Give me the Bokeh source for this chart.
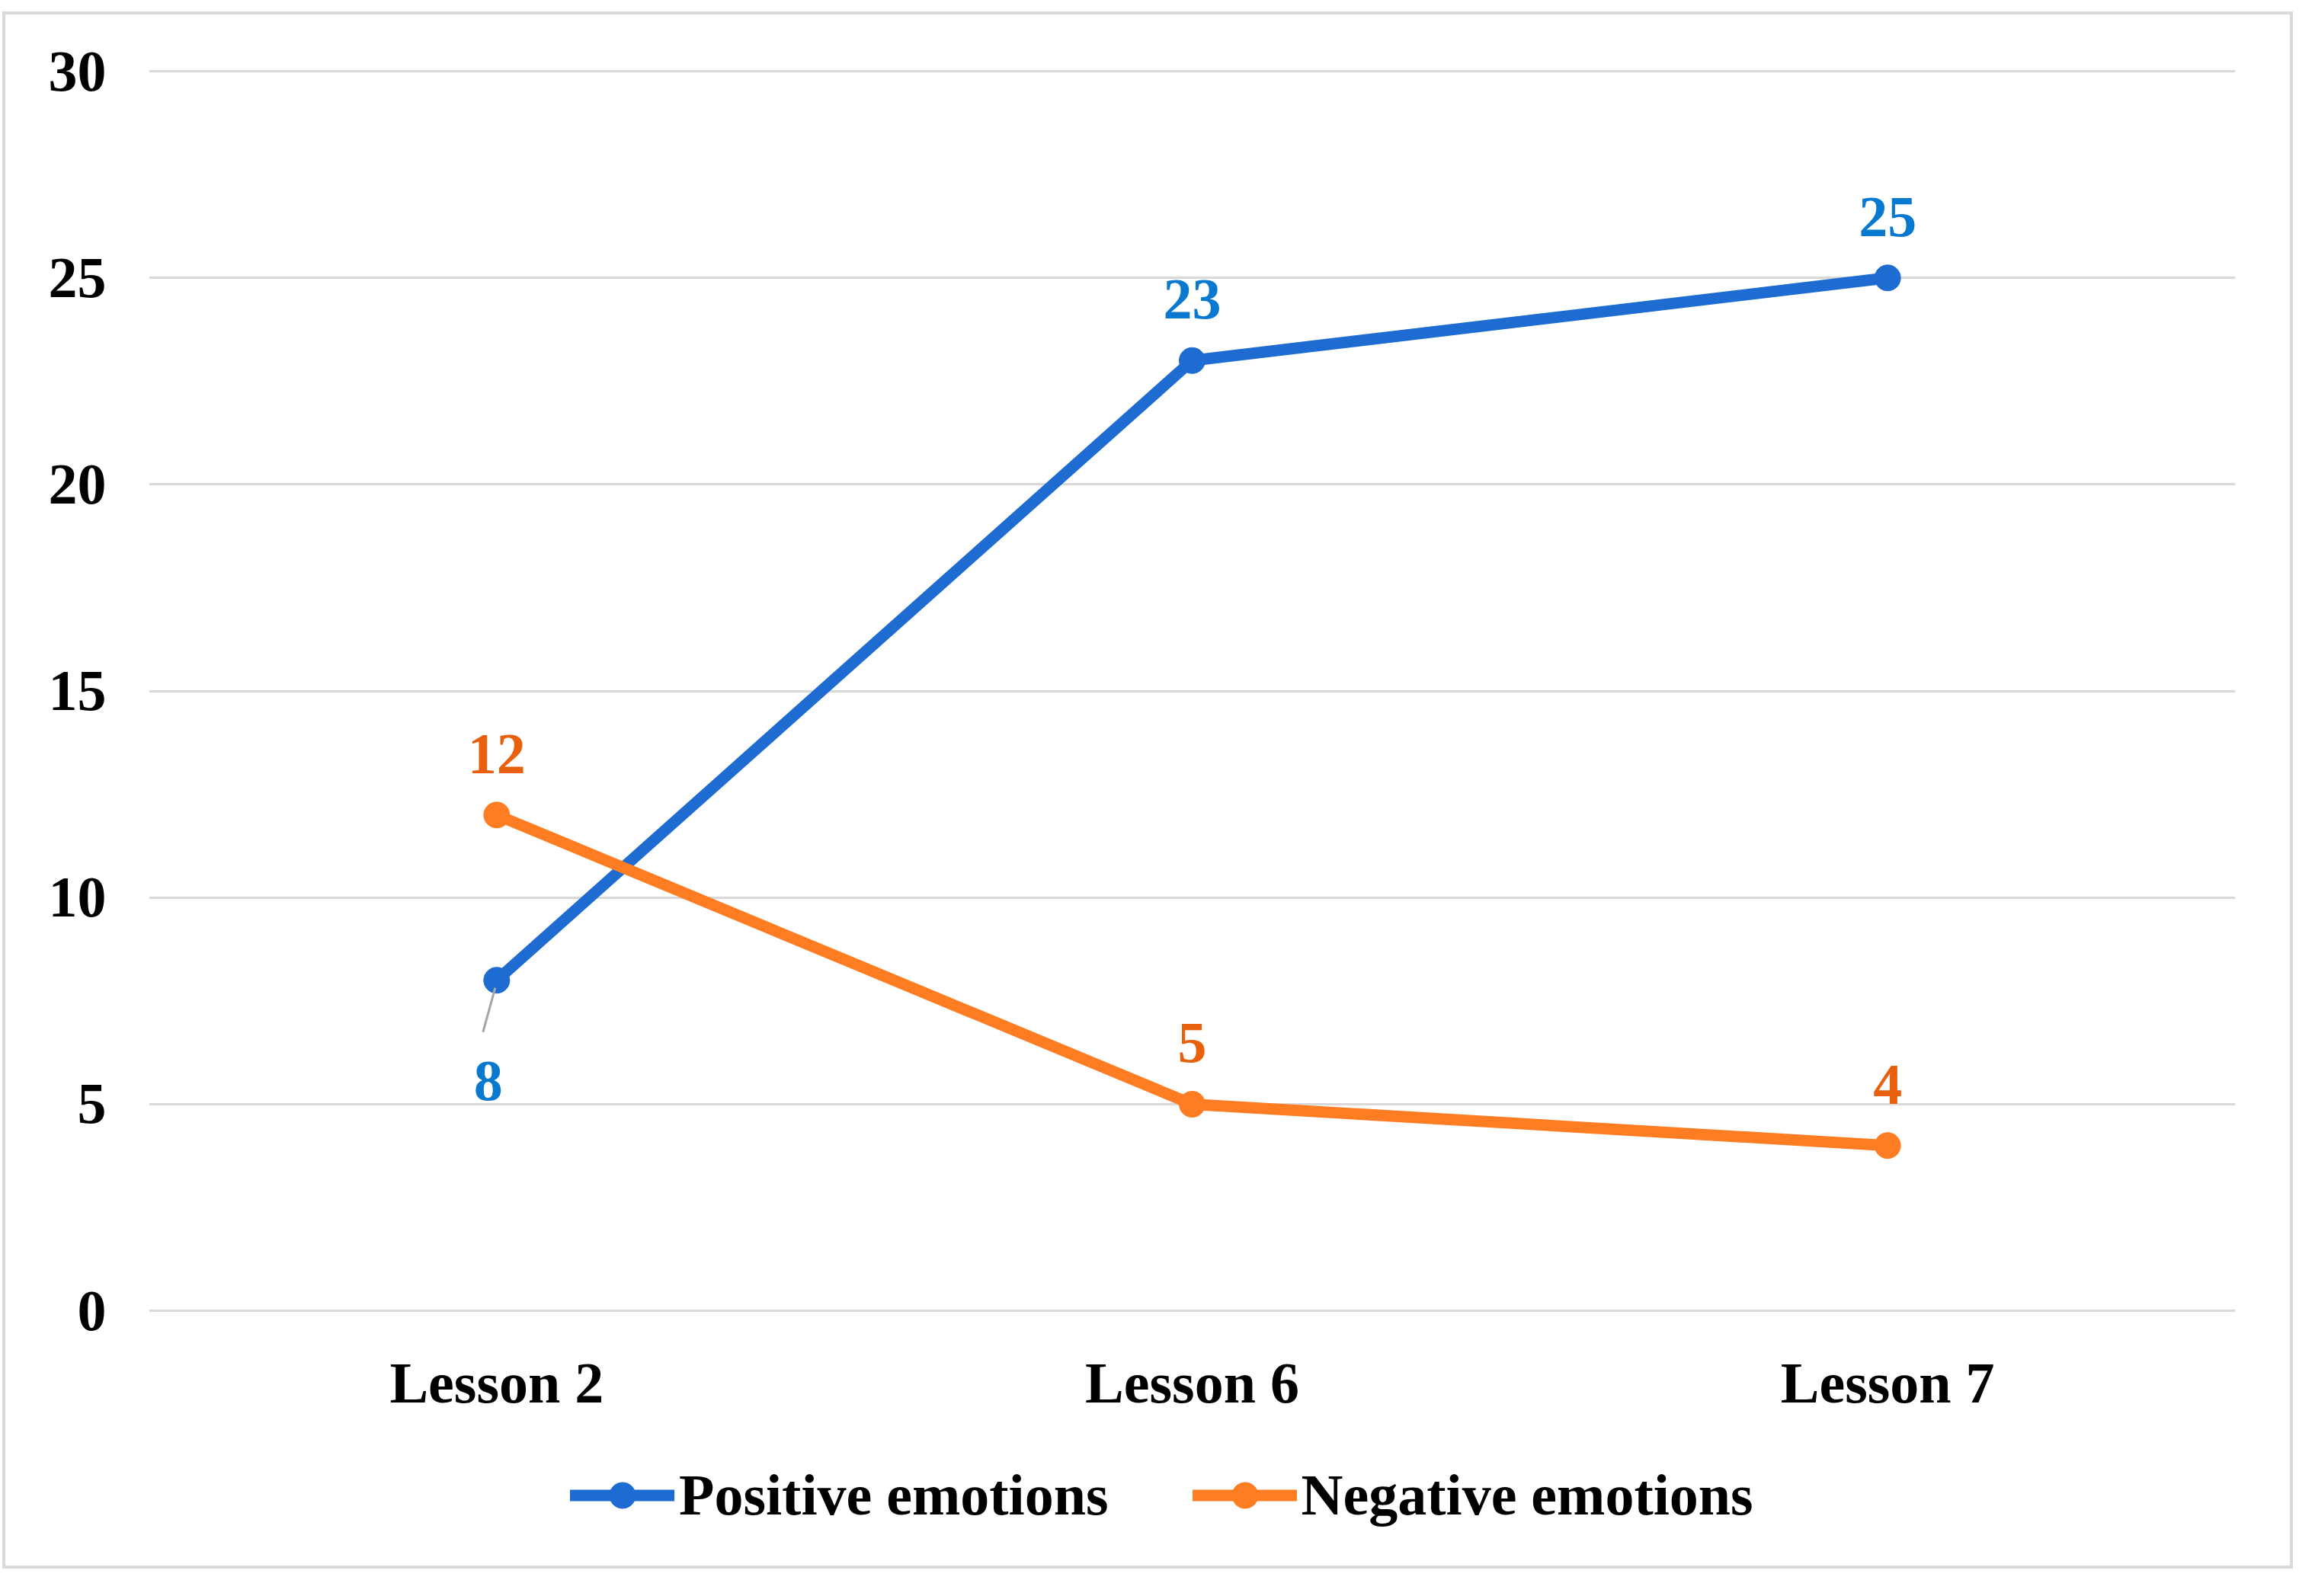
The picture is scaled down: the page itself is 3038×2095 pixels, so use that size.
from bokeh.plotting import figure
from bokeh.models import (FactorRange, Range1d, Legend, LegendItem, LabelSet,
                          ColumnDataSource, Spacer, FixedTicker)
from bokeh.layouts import column, row
from bokeh.embed import file_html
from bokeh.resources import INLINE

lessons = ["Lesson 2", "Lesson 6", "Lesson 7"]
positive = [8, 23, 25]
negative = [12, 5, 4]
y_ticks = [0, 5, 10, 15, 20, 25, 30]
series_names = ["Positive emotions", "Negative emotions"]

BLUE = "#1E6BD1"
ORANGE = "#FF7D22"
BLUE_LBL = "#0879CF"
ORANGE_LBL = "#E9600C"
FONT = "Liberation Serif"
FS = "76px"

# frame spans down to the canvas bottom so the legend can sit inside it
p = figure(x_range=FactorRange(*lessons, range_padding=0), y_range=Range1d(-6.175, 30.15),
           width=2998, height=2036, output_backend="svg", toolbar_location=None,
           min_border_left=188, min_border_right=72, min_border_top=66,
           min_border_bottom=0)
p.outline_line_color = None
p.background_fill_color = "white"
p.border_fill_color = "white"
p.styles = {"outline": "4px solid #d9d9d9"}

p.xgrid.visible = False
p.ygrid.grid_line_color = "#D9D9D9"
p.ygrid.grid_line_width = 3
p.yaxis.ticker = FixedTicker(ticks=y_ticks)
p.xaxis.fixed_location = 0

for ax in (p.xaxis[0], p.yaxis[0]):
    ax.axis_line_color = None
    ax.major_tick_line_color = None
    ax.minor_tick_line_color = None
    ax.major_label_text_font = FONT
    ax.major_label_text_font_style = "bold"
    ax.major_label_text_font_size = FS
    ax.major_label_text_color = "black"
p.yaxis.major_label_standoff = 50
p.xaxis.major_label_standoff = 46

line_kw = dict(line_width=15, line_join="round", line_cap="round")
r1 = p.line(lessons, positive, line_color=BLUE, **line_kw)
s1 = p.scatter(lessons, positive, size=34, fill_color=BLUE, line_color=BLUE)
r2 = p.line(lessons, negative, line_color=ORANGE, **line_kw)
s2 = p.scatter(lessons, negative, size=34, fill_color=ORANGE, line_color=ORANGE)

# leader line for the "8" label (callout below first point)
p.line(x=[(lessons[0], -0.0197), (lessons[0], -0.0022)],
       y=[positive[0] - 1.254, positive[0] - 0.184],
       line_color="#A6A6A6", line_width=3)

pos_src = ColumnDataSource(dict(x=lessons, y=positive, t=[str(v) for v in positive],
                                xo=[-11, 0, 0], yo=[-157, 55, 55]))
neg_src = ColumnDataSource(dict(x=lessons, y=negative, t=[str(v) for v in negative],
                                xo=[0, 0, 0], yo=[55, 55, 55]))
for src, col in ((pos_src, BLUE_LBL), (neg_src, ORANGE_LBL)):
    p.add_layout(LabelSet(x="x", y="y", text="t", source=src, x_offset="xo", y_offset="yo",
                          text_align="center", text_baseline="alphabetic",
                          text_font=FONT, text_font_style="bold", text_font_size=FS,
                          text_color=col))

legend = Legend(items=[LegendItem(label=series_names[0], renderers=[r1, s1]),
                       LegendItem(label=series_names[1], renderers=[r2, s2])],
                orientation="horizontal", location=(553, 49), padding=0, margin=0,
                spacing=110, glyph_width=137, glyph_height=85, label_standoff=6,
                label_height=88, label_text_font=FONT, label_text_font_style="bold",
                label_text_font_size=FS, label_text_color="black",
                border_line_color=None, background_fill_alpha=0)
p.add_layout(legend)

layout = column(Spacer(height=19), row(Spacer(width=7), p))
open("out.html", "w").write(file_html(layout, INLINE))
